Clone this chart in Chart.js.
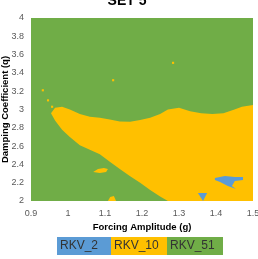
<!DOCTYPE html>
<html>
<head>
<meta charset="utf-8">
<script src="https://cdn.jsdelivr.net/npm/chart.js@4.4.0/dist/chart.umd.min.js"></script>
<style>
  html, body { margin: 0; padding: 0; background: #fff; overflow: hidden; }
  #wrap { position: relative; width: 258px; height: 259px; }
</style>
</head>
<body>
<div id="wrap"><canvas id="regimeMap"></canvas></div>
<script>
// regime names and colours (legend order)
const regimeNames = ['RKV_2', 'RKV_10', 'RKV_51'];
const regimeColors = ['#5B9BD5', '#FFC000', '#70AD47'];

// axis ticks
const xTickValues = [0.9, 1, 1.1, 1.2, 1.3, 1.4, 1.5];
const yTickValues = [2, 2.2, 2.4, 2.6, 2.8, 3, 3.2, 3.4, 3.6, 3.8, 4];

// RKV_51 covers the whole map behind the others
const greenX = [0.9, 1.5];
const greenY = [4, 4];

// main RKV_10 region: upper and lower edge read along forcing amplitude
const yellowX = [0.954, 0.965, 0.984, 1.005, 1.032, 1.059, 1.086, 1.113, 1.14, 1.168, 1.195, 1.222, 1.249, 1.27, 1.30, 1.33, 1.36, 1.39, 1.42, 1.45, 1.47, 1.50];
const yellowTop = [2.96, 3.02, 3.03, 3.0, 2.95, 2.92, 2.91, 2.89, 2.87, 2.865, 2.885, 2.91, 2.95, 3.0, 3.02, 2.98, 2.96, 2.95, 2.96, 3.0, 3.03, 3.05];
const yellowBottom = [2.96, 2.88, 2.78, 2.70, 2.61, 2.56, 2.51, 2.43, 2.35, 2.27, 2.20, 2.12, 2.05, 2.0, 2.0, 2.0, 2.0, 2.0, 2.0, 2.0, 2.0, 2.0];

// small RKV_10 islands
const islandX = [1.068, 1.081, 1.097, 1.108, 1.103, 1.086];
const islandY = [2.317, 2.35, 2.361, 2.35, 2.317, 2.306];
const footX = [1.108, 1.114, 1.124, 1.13];
const footY = [2.0, 2.044, 2.055, 2.0];
const dotsX = [0.932, 0.946, 0.957, 1.122, 1.284];
const dotsY = [3.21, 3.10, 3.03, 3.32, 3.51];

// RKV_2 patches
const blobX = [1.397, 1.424, 1.451, 1.473, 1.473, 1.451, 1.443, 1.454, 1.432, 1.411, 1.397];
const blobY = [2.251, 2.273, 2.262, 2.262, 2.23, 2.219, 2.164, 2.131, 2.164, 2.208, 2.23];
const wedgeX = [1.351, 1.376, 1.365];
const wedgeY = [2.087, 2.087, 2.0];

const pts = (xs, ys) => xs.map((x, i) => ({ x: x, y: ys[i] }));

const base = { pointRadius: 0, borderWidth: 0, tension: 0 };
const sans = '"Liberation Sans", Arial, sans-serif';

const titlePlugin = {
  id: 'setTitle',
  afterDraw(chart) {
    const ctx = chart.ctx;
    ctx.save();
    ctx.font = 'bold 14px ' + sans;
    ctx.fillStyle = '#000';
    ctx.textAlign = 'center';
    ctx.textBaseline = 'alphabetic';
    ctx.fillText('SET 5', 127, 4.5);
    ctx.restore();
  }
};

const legendWidths = [54, 56, 56];
const legendPlugin = {
  id: 'regimeLegend',
  afterDraw(chart) {
    const ctx = chart.ctx;
    ctx.save();
    let x = 57;
    regimeNames.forEach((name, i) => {
      ctx.fillStyle = regimeColors[i];
      ctx.fillRect(x, 237, legendWidths[i], 18);
      ctx.fillStyle = '#333';
      ctx.font = '12px ' + sans;
      ctx.textAlign = 'left';
      ctx.textBaseline = 'middle';
      ctx.fillText(name, x + 3, 246);
      x += legendWidths[i];
    });
    ctx.restore();
  }
};

new Chart(document.getElementById('regimeMap'), {
  type: 'line',
  data: {
    datasets: [
      Object.assign({}, base, { label: 'RKV_2 blob', data: pts(blobX, blobY), backgroundColor: regimeColors[0], fill: 'shape', order: 1 }),
      Object.assign({}, base, { label: 'RKV_2 wedge', data: pts(wedgeX, wedgeY), backgroundColor: regimeColors[0], fill: 'shape', order: 1 }),
      Object.assign({}, base, { label: 'RKV_10 island', data: pts(islandX, islandY), backgroundColor: regimeColors[1], fill: 'shape', order: 2 }),
      Object.assign({}, base, { label: 'RKV_10 foot', data: pts(footX, footY), backgroundColor: regimeColors[1], fill: 'shape', order: 2 }),
      { label: 'RKV_10 dots', data: pts(dotsX, dotsY), showLine: false, pointStyle: 'rect', pointRadius: 1.5, pointBorderWidth: 0, backgroundColor: regimeColors[1], order: 2 },
      Object.assign({}, base, { label: 'RKV_10 top', data: pts(yellowX, yellowTop), backgroundColor: regimeColors[1], fill: '+1', order: 5 }),
      Object.assign({}, base, { label: 'RKV_10 bottom', data: pts(yellowX, yellowBottom), fill: false, order: 5 }),
      Object.assign({}, base, { label: 'RKV_51', data: pts(greenX, greenY), backgroundColor: regimeColors[2], fill: 'start', order: 10 })
    ]
  },
  options: {
    responsive: true,
    maintainAspectRatio: false,
    animation: false,
    layout: { padding: { top: 18, right: 5, left: 0, bottom: 0 } },
    plugins: {
      legend: { display: false },
      tooltip: { enabled: false },
      title: { display: false }
    },
    scales: {
      x: {
        type: 'linear',
        min: 0.9,
        max: 1.5,
        grid: { display: false, drawTicks: false },
        border: { display: false },
        afterFit: function(scale) {
          scale.height = 58;
          scale.paddingLeft = 0;
          scale.paddingRight = 0;
        },
        afterBuildTicks: function(scale) { scale.ticks = xTickValues.map(v => ({ value: v })); },
        ticks: {
          padding: 7,
          color: '#595959',
          font: { family: sans, size: 9 },
          callback: function(value) { return String(value); }
        },
        title: {
          display: true,
          text: 'Forcing Amplitude (g)',
          color: '#000',
          font: { family: sans, size: 9.5, weight: 'bold' },
          padding: { top: 0, bottom: 26 }
        }
      },
      y: {
        type: 'linear',
        min: 2,
        max: 4,
        grid: { display: false, drawTicks: false },
        border: { display: false },
        afterFit: function(scale) {
          scale.width = 31;
          scale.paddingTop = 0;
          scale.paddingBottom = 0;
        },
        afterBuildTicks: function(scale) { scale.ticks = yTickValues.map(v => ({ value: v })); },
        ticks: {
          padding: 7,
          color: '#595959',
          font: { family: sans, size: 9 },
          callback: function(value) { return String(value); }
        },
        title: {
          display: true,
          text: 'Damping Coefficient (q)',
          color: '#000',
          font: { family: sans, size: 9.5, weight: 'bold' },
          padding: { top: 0, bottom: 0 }
        }
      }
    }
  },
  plugins: [titlePlugin, legendPlugin]
});
</script>
</body>
</html>
